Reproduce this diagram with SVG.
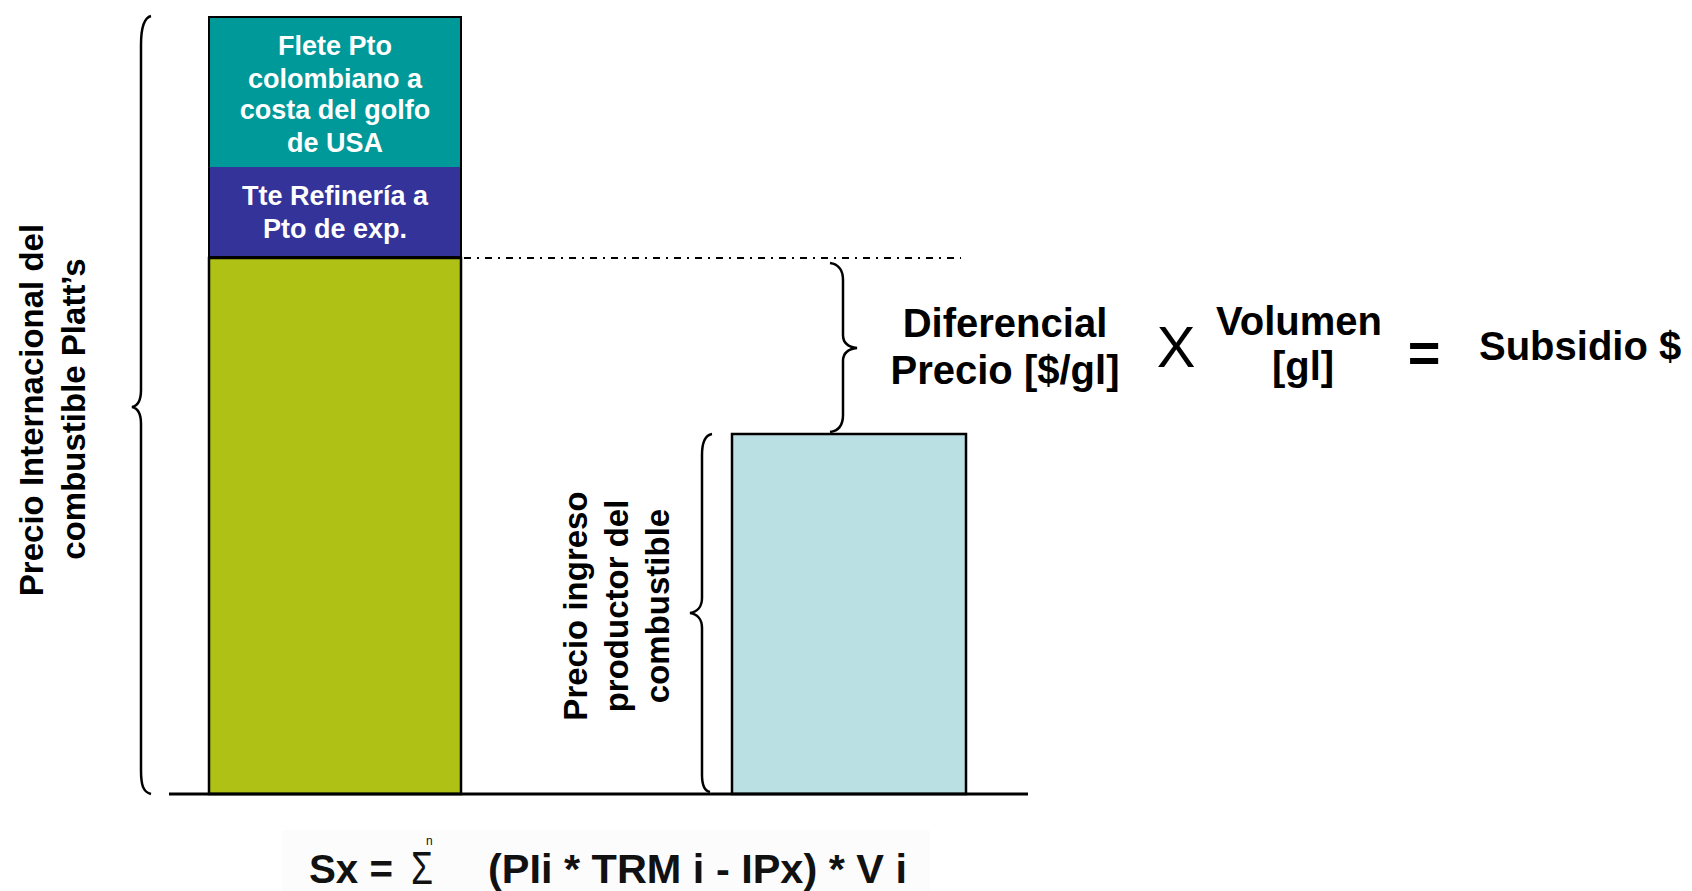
<svg xmlns="http://www.w3.org/2000/svg" width="1692" height="891" viewBox="0 0 1692 891">
<style>
.b{font-family:"Liberation Sans",Arial,sans-serif;font-weight:bold;fill:#000}
.w{font-family:"Liberation Sans",Arial,sans-serif;font-weight:bold;fill:#fff;font-size:27px;text-anchor:middle}
.br{fill:none;stroke:#000;stroke-width:2.5}
.f{font-family:"Liberation Sans",Arial,sans-serif;fill:#111;font-weight:bold}
</style>
<rect width="1692" height="891" fill="#fff"/>
<g id="formula-bg"><rect x="282" y="830" width="648" height="61" fill="#fcfcfc"/></g>
<g id="left-bar">
<rect x="208" y="16" width="254" height="151" fill="#009999"/>
<rect x="208" y="167" width="254" height="89" fill="#333399"/>
<rect x="209" y="17" width="252" height="240" fill="none" stroke="#000" stroke-width="2"/>
<rect x="209" y="258" width="252" height="536" fill="#AFC114" stroke="#000" stroke-width="2.5"/>
<text class="w" x="335" y="55">Flete Pto</text>
<text class="w" x="335" y="88">colombiano a</text>
<text class="w" x="335" y="119">costa del golfo</text>
<text class="w" x="335" y="152">de USA</text>
<text class="w" x="335" y="205">Tte Refinería a</text>
<text class="w" x="335" y="238">Pto de exp.</text>
</g>
<g id="right-box">
<rect x="732" y="434" width="234" height="360" fill="#BBE0E3" stroke="#000" stroke-width="2.5"/>
</g>
<g id="connectors">
<line x1="169" y1="794" x2="1028" y2="794" stroke="#000" stroke-width="3"/>
<line x1="464" y1="258" x2="961" y2="258" stroke="#000" stroke-width="2" stroke-dasharray="7 6 2 6"/>
<path class="br" d="M151,16 C143,18 141,30 141,45 L141,390 C141,402 137,406 132,407 C137,408 141,412 141,424 L141,770 C141,785 143,792 151,794"/>
<path class="br" d="M830,263 C838,264 843,270 843,280 L843,335 C843,343 848,347 857,348 C848,349 843,353 843,361 L843,415 C843,426 838,431 830,432"/>
<path class="br" d="M712,434 C706,435 702,442 702,455 L702,598 C702,607 697,612 690,613 C697,614 702,619 702,628 L702,775 C702,786 705,791 710,792"/>
</g>
<g id="left-label" class="b" font-size="33" text-anchor="middle">
<text x="43" y="410" transform="rotate(-90 43 410)">Precio Internacional del</text>
<text x="85" y="409" transform="rotate(-90 85 409)">combustible Platt’s</text>
</g>
<g id="right-label" class="b" font-size="33" text-anchor="middle">
<text x="587" y="606" transform="rotate(-90 587 606)">Precio ingreso</text>
<text x="628" y="606" transform="rotate(-90 628 606)">productor del</text>
<text x="669" y="606" transform="rotate(-90 669 606)">combustible</text>
</g>
<g id="equation">
<text class="b" font-size="40" text-anchor="middle" x="1005" y="337">Diferencial</text>
<text class="b" font-size="40" text-anchor="middle" x="1005" y="384">Precio [$/gl]</text>
<text font-family="Liberation Sans,Arial,sans-serif" font-size="58" text-anchor="middle" x="1176" y="367">X</text>
<text class="b" font-size="40" text-anchor="middle" x="1299" y="335">Volumen</text>
<text class="b" font-size="40" text-anchor="middle" x="1303" y="380">[gl]</text>
<text class="b" font-size="56" text-anchor="middle" x="1424" y="372">=</text>
<text class="b" font-size="40" x="1479" y="360">Subsidio $</text>
</g>
<g id="formula">
<text class="f" style="font-size:40px" x="309" y="883" textLength="84" lengthAdjust="spacingAndGlyphs">Sx =</text>
<text class="f" style="font-size:46px;font-weight:normal" x="411" y="884" textLength="22" lengthAdjust="spacingAndGlyphs">Σ</text>
<text class="f" style="font-size:12px;font-weight:normal" x="426" y="845">n</text>
<text class="f" style="font-size:40px" x="488" y="883" textLength="419" lengthAdjust="spacingAndGlyphs">(PIi * TRM i - IPx) * V i</text>
</g>
</svg>
